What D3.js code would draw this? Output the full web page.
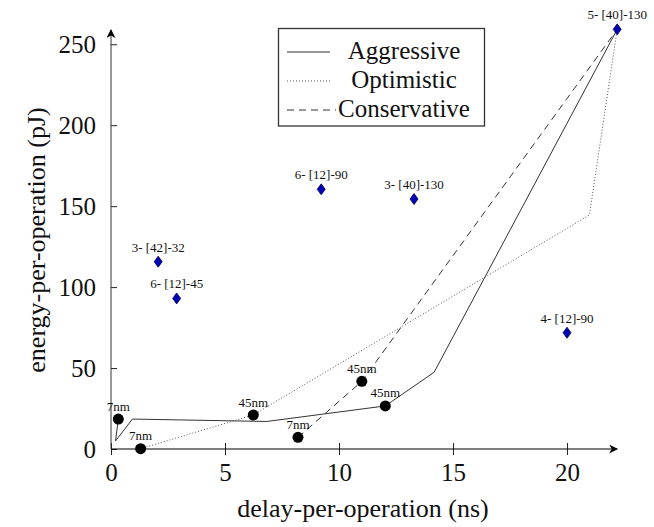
<!DOCTYPE html>
<html>
<head>
<meta charset="utf-8">
<script src="https://cdn.jsdelivr.net/npm/d3@7"></script>
<style>
  body { margin: 0; background: white; }
  svg { display: block; }
</style>
</head>
<body>
<svg id="chart"></svg>
<script>
// x-axis ticks and y-axis ticks
const x_ticks = [0, 5, 10, 15, 20]
const y_ticks = [0, 50, 100, 150, 200, 250]

// the three scaling trends (delay ns, energy pJ)
const aggressive_x = [0.32, 0.2, 0.94, 6.83, 12.03, 14.17, 22.2]
const aggressive_y = [18.5, 5, 18.5, 17, 26.6, 47.4, 259.2]
const optimistic_x = [1.3, 6.24, 20.98, 22.2]
const optimistic_y = [0.2, 21, 144.5, 259.2]
const conservative_x = [8.2, 11.0, 22.2]
const conservative_y = [7.2, 41.8, 259.2]

// technology nodes (black dots)
const tech_x = [0.32, 1.3, 6.24, 8.2, 11.0, 12.03]
const tech_y = [18.5, 0.2, 21, 7.2, 41.8, 26.6]
const tech_labels = ['7nm', '7nm', '45nm', '7nm', '45nm', '45nm']

// designs (blue diamonds)
const design_x = [2.07, 2.88, 9.22, 13.29, 22.2, 20.0]
const design_y = [115.7, 93, 160.4, 154.4, 259.2, 71.8]
const design_labels = ['3- [42]-32', '6- [12]-45', '6- [12]-90', '3- [40]-130', '5- [40]-130', '4- [12]-90']

const series_names = ['Aggressive', 'Optimistic', 'Conservative']
const series_x = [aggressive_x, optimistic_x, conservative_x]
const series_y = [aggressive_y, optimistic_y, conservative_y]

const width = 654
const height = 527
const font = "'Liberation Serif', 'Times New Roman', serif"
const dashes = [null, '1,2', '7,5']

const svg = d3.select('#chart')
              .attr('width', width)
              .attr('height', height)
              .attr('font-family', font)

const x = d3.scaleLinear([0, 22.2], [111, 617.2])
const y = d3.scaleLinear([0, 258.8], [449, 30])

// arrow head for the axes
svg.append('defs')
   .append('marker')
     .attr('id', 'arrow')
     .attr('viewBox', '0 0 10 10')
     .attr('refX', 9)
     .attr('refY', 5)
     .attr('markerWidth', 9)
     .attr('markerHeight', 9)
     .attr('markerUnits', 'userSpaceOnUse')
     .attr('orient', 'auto')
   .append('path')
     .attr('d', 'M0,0 L10,5 L0,10 L3,5 Z')
     .attr('fill', '#000')

// axes: tikz-style lines crossing at the origin, ticks on both sides
const xAxis = d3.axisBottom(x).tickValues(x_ticks).tickSizeInner(6).tickSizeOuter(0)
svg.append('g')
   .attr('transform', `translate(0,${y(0)})`)
   .call(xAxis)
   .call(g => g.select('.domain').remove())
   .call(g => g.selectAll('.tick line').attr('y1', -6).attr('stroke', '#222'))
   .call(g => g.selectAll('.tick text')
               .attr('y', 32)
               .attr('dy', 0)
               .attr('font-size', 25)
               .attr('font-family', font)
               .attr('fill', '#111'))

const yAxis = d3.axisLeft(y).tickValues(y_ticks).tickSizeInner(6).tickSizeOuter(0)
svg.append('g')
   .attr('transform', `translate(${x(0)},0)`)
   .call(yAxis)
   .call(g => g.select('.domain').remove())
   .call(g => g.selectAll('.tick line').attr('x2', 6).attr('stroke', '#222'))
   .call(g => g.selectAll('.tick text')
               .attr('x', -15)
               .attr('dy', '0.34em')
               .attr('font-size', 25)
               .attr('font-family', font)
               .attr('fill', '#111'))

svg.append('line')
   .attr('x1', x(0)).attr('x2', x(22.2))
   .attr('y1', y(0)).attr('y2', y(0))
   .attr('stroke', '#000')
   .attr('marker-end', 'url(#arrow)')
svg.append('line')
   .attr('x1', x(0)).attr('x2', x(0))
   .attr('y1', y(0)).attr('y2', y(258.8))
   .attr('stroke', '#333')
   .attr('marker-end', 'url(#arrow)')

// axis titles
svg.append('text')
   .attr('x', 363)
   .attr('y', 517)
   .attr('text-anchor', 'middle')
   .attr('font-size', 26)
   .attr('fill', '#111')
   .text('delay-per-operation (ns)')
svg.append('text')
   .attr('transform', 'translate(45,240) rotate(-90)')
   .attr('text-anchor', 'middle')
   .attr('font-size', 26)
   .attr('fill', '#111')
   .text('energy-per-operation (pJ)')

// trend lines
const line = d3.line().x(d => x(d[0])).y(d => y(d[1]))
svg.append('g')
   .selectAll('path')
   .data(d3.range(series_names.length))
   .join('path')
     .attr('d', i => line(d3.zip(series_x[i], series_y[i])))
     .attr('fill', 'none')
     .attr('stroke', i => i == 1 ? '#555' : '#333')
     .attr('stroke-width', 1)
     .attr('stroke-dasharray', i => dashes[i])

// technology dots
svg.append('g')
   .selectAll('circle')
   .data(d3.range(tech_x.length))
   .join('circle')
     .attr('cx', i => x(tech_x[i]))
     .attr('cy', i => y(tech_y[i]))
     .attr('r', 5.5)
     .attr('fill', '#000')

// design diamonds
svg.append('g')
   .selectAll('path')
   .data(d3.range(design_x.length))
   .join('path')
     .attr('transform', i => `translate(${x(design_x[i])},${y(design_y[i])})`)
     .attr('d', 'M0,-5.5 L4,0 L0,5.5 L-4,0 Z')
     .attr('fill', '#0000b4')
     .attr('stroke', '#00004a')
     .attr('stroke-width', 0.8)

// point labels
svg.append('g')
   .selectAll('text')
   .data(d3.range(tech_x.length))
   .join('text')
     .attr('x', i => x(tech_x[i]))
     .attr('y', i => y(tech_y[i]) - 8.5)
     .attr('text-anchor', 'middle')
     .attr('font-size', 13)
     .attr('fill', '#111')
     .text(i => tech_labels[i])
svg.append('g')
   .selectAll('text')
   .data(d3.range(design_x.length))
   .join('text')
     .attr('x', i => x(design_x[i]))
     .attr('y', i => y(design_y[i]) - 10)
     .attr('text-anchor', 'middle')
     .attr('font-size', 13)
     .attr('fill', '#111')
     .text(i => design_labels[i])

// legend
const legend = svg.append('g')
legend.append('rect')
      .attr('x', 278.5)
      .attr('y', 28.5)
      .attr('width', 206)
      .attr('height', 97.5)
      .attr('fill', 'white')
      .attr('stroke', '#333')
      .attr('stroke-width', 1.3)
const legend_rows = legend.selectAll('g')
                          .data(d3.range(series_names.length))
                          .join('g')
                            .attr('transform', i => `translate(0,${52 + i * 29})`)
legend_rows.append('line')
           .attr('x1', 287)
           .attr('x2', i => i == 2 ? 336 : 330)
           .attr('stroke', i => i == 1 ? '#555' : '#333')
           .attr('stroke-dasharray', i => dashes[i])
legend_rows.append('text')
           .attr('x', 404)
           .attr('y', 7)
           .attr('text-anchor', 'middle')
           .attr('font-size', 25)
           .attr('fill', '#111')
           .text(i => series_names[i])
</script>
</body>
</html>
